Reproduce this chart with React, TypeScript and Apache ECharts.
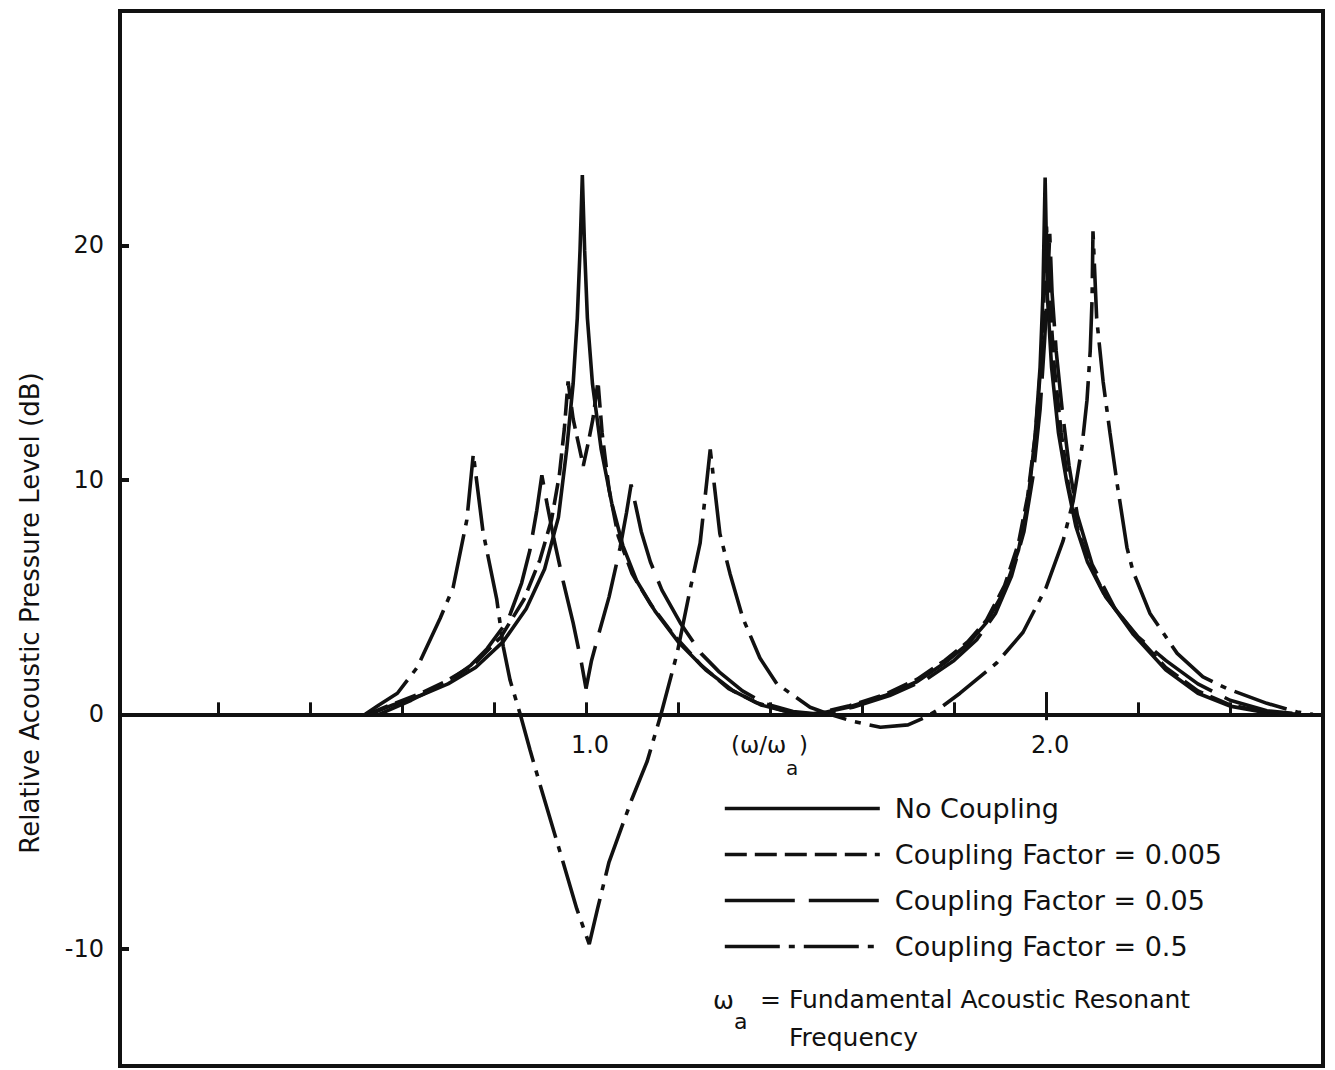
import React, { useEffect, useRef } from "react";
import * as echarts from "echarts";

const FONT = "DejaVu Sans";
const INK = "#111";

// axis ticks / labels
const xTickValues = [0.2, 0.4, 0.6, 0.8, 1.0, 1.2, 1.4, 1.6, 1.8, 2.0, 2.2, 2.4];
const xLabelValues = [1.0, 2.0];
const xLongTickValues = [2.0];
const yTickValues = [-10, 0, 10, 20];

// series names
const seriesNames = [
  "No Coupling",
  "Coupling Factor = 0.005",
  "Coupling Factor = 0.05",
  "Coupling Factor = 0.5",
];

// [omega/omega_a, dB]
const noCoupling: [number, number][] = [
  [0.53, 0], [0.58, 0.4], [0.64, 0.8], [0.7, 1.3], [0.76, 2.0], [0.82, 3.1], [0.87, 4.5],
  [0.91, 6.2], [0.94, 8.4], [0.958, 11.3], [0.972, 14.1], [0.981, 16.9], [0.987, 19.8],
  [0.992, 23.0], [0.997, 19.8], [1.003, 16.9], [1.014, 14.1], [1.033, 11.3], [1.056, 9.0],
  [1.08, 7.2], [1.11, 5.7], [1.15, 4.4], [1.2, 3.1], [1.26, 1.9], [1.32, 1.0], [1.38, 0.4],
  [1.44, 0.1], [1.5, 0], [1.57, 0.3], [1.65, 0.8], [1.72, 1.4], [1.78, 2.2], [1.83, 3.0],
  [1.87, 3.9], [1.91, 5.3], [1.94, 7.0], [1.96, 9.0], [1.976, 11.8], [1.987, 14.8],
  [1.993, 17.8], [1.998, 22.9], [2.003, 17.8], [2.012, 14.8], [2.027, 12.0], [2.045, 9.9],
  [2.065, 8.0], [2.09, 6.5], [2.124, 5.2], [2.19, 3.4], [2.26, 1.9], [2.33, 0.9],
  [2.4, 0.35], [2.47, 0.1], [2.55, 0],
];

const coupling005: [number, number][] = [
  [0.525, 0], [0.575, 0.4], [0.635, 0.85], [0.695, 1.4], [0.755, 2.1], [0.815, 3.3],
  [0.865, 4.9], [0.9, 6.6], [0.925, 8.3], [0.942, 10.2], [0.953, 12.2], [0.961, 14.2],
  [0.972, 12.6], [0.983, 11.6], [0.994, 10.6], [1.005, 11.6], [1.015, 12.6], [1.026, 14.2],
  [1.035, 12.0], [1.05, 9.6], [1.07, 7.6], [1.1, 6.0], [1.14, 4.7], [1.19, 3.4],
  [1.25, 2.1], [1.31, 1.1], [1.37, 0.5], [1.43, 0.15], [1.49, 0], [1.57, 0.35],
  [1.65, 0.85], [1.72, 1.5], [1.78, 2.3], [1.83, 3.1], [1.87, 4.0], [1.91, 5.5],
  [1.94, 7.3], [1.96, 9.3], [1.977, 12.0], [1.989, 15.0], [1.996, 18.0], [2.001, 20.8],
  [2.007, 18.0], [2.018, 14.8], [2.033, 12.0], [2.05, 9.6], [2.07, 7.8], [2.095, 6.4],
  [2.13, 5.0], [2.19, 3.5], [2.26, 2.0], [2.33, 1.0], [2.4, 0.4], [2.47, 0.12], [2.54, 0],
];

const coupling05: [number, number][] = [
  [0.55, 0], [0.62, 0.6], [0.7, 1.4], [0.75, 2.1], [0.785, 2.8], [0.83, 4.0], [0.86, 5.6],
  [0.878, 7.0], [0.893, 8.7], [0.904, 10.2], [0.916, 8.9], [0.93, 7.5], [0.95, 5.7],
  [0.972, 3.9], [0.99, 2.2], [1.0, 1.1], [1.012, 2.3], [1.03, 3.6], [1.05, 5.0],
  [1.074, 7.1], [1.088, 8.6], [1.098, 9.8], [1.108, 8.9], [1.12, 7.8], [1.14, 6.5],
  [1.165, 5.3], [1.205, 3.9], [1.25, 2.6], [1.29, 1.8], [1.34, 1.0], [1.39, 0.45],
  [1.45, 0.12], [1.51, 0], [1.58, 0.3], [1.66, 0.8], [1.74, 1.5], [1.8, 2.3], [1.85, 3.2],
  [1.89, 4.3], [1.925, 5.9], [1.952, 7.8], [1.972, 10.2], [1.987, 13.0], [1.997, 16.0],
  [2.004, 18.6], [2.008, 20.5], [2.013, 18.0], [2.022, 15.5], [2.035, 13.0], [2.05, 10.6],
  [2.068, 8.5], [2.1, 6.4], [2.15, 4.5], [2.2, 3.3], [2.26, 2.3], [2.33, 1.3], [2.4, 0.6],
  [2.48, 0.15], [2.56, 0],
];

const coupling5: [number, number][] = [
  [0.52, 0], [0.55, 0.4], [0.59, 0.9], [0.633, 2.0], [0.683, 4.1], [0.711, 5.4],
  [0.741, 8.3], [0.755, 11.1], [0.776, 7.8], [0.806, 4.9], [0.82, 2.9], [0.835, 1.45],
  [0.857, 0], [0.878, -1.5], [0.9, -3.0], [0.95, -6.3], [0.98, -8.3], [1.007, -9.8],
  [1.025, -8.3], [1.05, -6.3], [1.1, -3.6], [1.133, -2.0], [1.163, 0], [1.198, 2.6],
  [1.226, 5.3], [1.248, 7.3], [1.27, 11.3], [1.291, 7.7], [1.313, 6.0], [1.341, 4.1],
  [1.378, 2.4], [1.415, 1.3], [1.487, 0.3], [1.53, 0], [1.58, -0.3], [1.64, -0.55],
  [1.7, -0.45], [1.74, -0.1], [1.763, 0.17], [1.813, 0.9], [1.893, 2.2], [1.95, 3.5],
  [2.0, 5.4], [2.037, 7.4], [2.059, 9.1], [2.078, 11.4], [2.089, 13.4], [2.096, 15.5],
  [2.1, 17.7], [2.102, 20.6], [2.11, 16.9], [2.124, 14.2], [2.139, 12.0], [2.154, 9.9],
  [2.176, 7.1], [2.189, 6.1], [2.226, 4.3], [2.285, 2.6], [2.341, 1.6], [2.393, 1.1],
  [2.48, 0.47], [2.546, 0.1], [2.58, 0],
];

const seriesData = [noCoupling, coupling005, coupling05, coupling5];
const dashTypes: any[] = ["solid", [22, 8], [70, 14], [55, 9, 6, 9]];
const LINE_W = 3.6;

function txt(text: string, x: number, y: number, size: number, extra: any = {}) {
  const align = extra.align || "left";
  const { align: _a, ...rest } = extra;
  return {
    type: "text",
    x,
    y,
    silent: true,
    ...rest,
    style: {
      text,
      fontFamily: FONT,
      fontSize: size,
      fill: INK,
      align,
      textAlign: align,
      verticalAlign: "middle",
      textVerticalAlign: "middle",
    },
  };
}

export default function App() {
  const ref = useRef<HTMLDivElement>(null);
  useEffect(() => {
    const chart = echarts.init(ref.current!, null, { renderer: "svg" });
    const staticGraphics = [
      txt("Relative Acoustic Pressure Level (dB)", 30, 613, 26, {
        rotation: Math.PI / 2,
        align: "center",
      }),
      txt("(ω/ω", 731, 745, 23),
      txt("a", 786, 768, 20),
      txt(")", 799, 745, 23),
      txt("ω", 713, 1000, 25),
      txt("a", 734, 1021, 22),
      txt("= Fundamental Acoustic Resonant", 760, 999, 25),
      txt("Frequency", 789, 1037, 25),
    ];
    chart.setOption({
      animation: false,
      backgroundColor: "#fff",
      grid: {
        left: 120,
        right: 12,
        top: 11,
        bottom: 4,
        show: true,
        borderColor: INK,
        borderWidth: 4,
        backgroundColor: "transparent",
      },
      xAxis: {
        type: "value",
        min: -0.013,
        max: 2.602,
        axisLine: { onZero: true, lineStyle: { color: INK, width: 4 } },
        axisTick: {
          inside: true,
          length: 12,
          customValues: xTickValues,
          lineStyle: { color: INK, width: 3 },
        },
        axisLabel: { show: false },
        splitLine: { show: false },
      },
      yAxis: {
        type: "value",
        min: -15,
        max: 30,
        axisLine: { show: true, onZero: false, lineStyle: { color: INK, width: 4 } },
        axisTick: {
          inside: true,
          length: 9,
          customValues: yTickValues,
          lineStyle: { color: INK, width: 4 },
        },
        axisLabel: {
          customValues: yTickValues,
          fontFamily: FONT,
          fontSize: 24,
          color: INK,
          margin: 16,
        },
        splitLine: { show: false },
      },
      legend: {
        orient: "vertical",
        left: 718,
        top: 790,
        itemWidth: 155,
        itemHeight: 24,
        itemGap: 19,
        selectedMode: false,
        data: seriesNames,
        itemStyle: { color: "rgba(0,0,0,0)", borderColor: "rgba(0,0,0,0)", borderWidth: 0 },
        lineStyle: { width: LINE_W },
        textStyle: { fontFamily: FONT, fontSize: 27, color: INK, padding: [0, 0, 0, 10] },
      },
      series: seriesNames.map((name, i) => ({
        name,
        type: "line",
        data: seriesData[i],
        showSymbol: false,
        symbol: "none",
        smooth: false,
        silent: true,
        lineStyle: { color: INK, width: LINE_W, type: dashTypes[i] },
        itemStyle: { color: INK },
        z: 3 + i,
        markLine:
          i === 0
            ? {
                silent: true,
                symbol: "none",
                label: { show: false },
                lineStyle: { color: INK, width: 3, type: "solid" },
                data: xLongTickValues.map((v) => [
                  { coord: [v, -0.25] },
                  { coord: [v, 0.95] },
                ]),
              }
            : undefined,
      })),
      graphic: staticGraphics,
    });
    // x tick labels positioned through the axis scale
    const labelGraphics = xLabelValues.map((v) => {
      const p = chart.convertToPixel({ xAxisIndex: 0, yAxisIndex: 0 }, [v, 0]) as number[];
      return txt(v.toFixed(1), p[0] + 4, p[1] + 31, 24, { align: "center" });
    });
    chart.setOption({ graphic: [...staticGraphics, ...labelGraphics] });
    return () => chart.dispose();
  }, []);
  return (
    <div
      ref={ref}
      style={{ position: "absolute", left: 0, top: 0, width: 1335, height: 1070, background: "#fff" }}
    />
  );
}
